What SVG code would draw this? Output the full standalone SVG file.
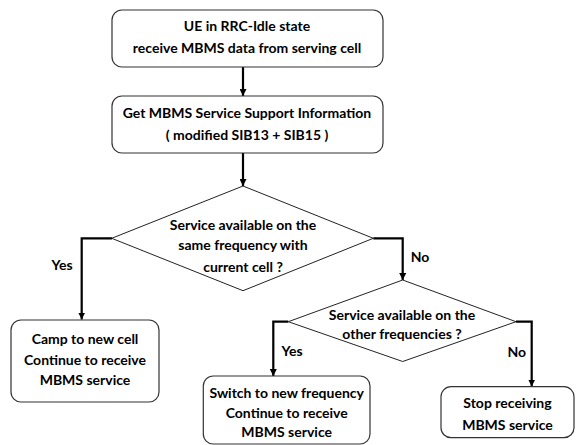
<svg xmlns="http://www.w3.org/2000/svg" width="576" height="445" viewBox="0 0 576 445">
<defs>
<marker id="arr" markerUnits="userSpaceOnUse" markerWidth="7" markerHeight="7" viewBox="0 0 7 7" refX="7" refY="3.5" orient="auto">
<path d="M0,0 L7,3.5 L0,7 Z" fill="#000"/>
</marker>
</defs>
<style>
.box{fill:#fff;stroke:#333;stroke-width:1.2}
.dia{fill:#fff;stroke:#222;stroke-width:1}
.con{fill:none;stroke:#000;stroke-width:2.2;marker-end:url(#arr)}
text{font-family:Lato,"Liberation Sans",sans-serif;font-weight:bold;font-size:14px;fill:#000;text-anchor:middle}
</style>
<g id="connectors">
<path class="con" d="M243,67 V96"/>
<path class="con" d="M243,153 V186"/>
<path class="con" d="M112,238.3 H81.7 V319.5"/>
<path class="con" d="M373.3,238.3 H402.7 V280"/>
<path class="con" d="M288.3,321.7 H273.3 V376"/>
<path class="con" d="M516,321.7 H531.7 V386.5"/>
</g>
<g id="n1">
<rect class="box" x="112" y="10" width="271" height="57" rx="10"/>
<text x="247" y="31">UE in RRC-Idle state</text>
<text x="247" y="53">receive MBMS data from serving cell</text>
</g>
<g id="n2">
<rect class="box" x="112" y="96" width="271" height="57" rx="10"/>
<text x="247" y="118">Get MBMS Service Support Information</text>
<text x="247" y="140">( modified SIB13 + SIB15 )</text>
</g>
<g id="d1">
<polygon class="dia" points="243,186 373.3,238.3 243,290.7 111.7,238.3"/>
<text x="243" y="230">Service available on the</text>
<text x="243" y="250">same frequency with</text>
<text x="243" y="272">current cell ?</text>
</g>
<g id="d2">
<polygon class="dia" points="402.7,280 516,321.7 402.7,361.5 288.3,321.7"/>
<text x="402" y="320">Service available on the</text>
<text x="402" y="339">other frequencies ?</text>
</g>
<g id="n3">
<rect class="box" x="11" y="320" width="148" height="82" rx="10"/>
<text x="85" y="344">Camp to new cell</text>
<text x="85" y="365">Continue to receive</text>
<text x="85" y="385">MBMS service</text>
</g>
<g id="n4">
<rect class="box" x="203.3" y="376" width="166.7" height="68" rx="10"/>
<text x="286.7" y="398">Switch to new frequency</text>
<text x="286.7" y="418">Continue to receive</text>
<text x="286.7" y="437">MBMS service</text>
</g>
<g id="n5">
<rect class="box" x="441" y="386.7" width="133" height="51" rx="10"/>
<text x="507.5" y="408">Stop receiving</text>
<text x="507.5" y="430">MBMS service</text>
</g>
<g id="labels">
<text x="62" y="270">Yes</text>
<text x="420" y="262">No</text>
<text x="292" y="356">Yes</text>
<text x="516.7" y="357">No</text>
</g>
</svg>
